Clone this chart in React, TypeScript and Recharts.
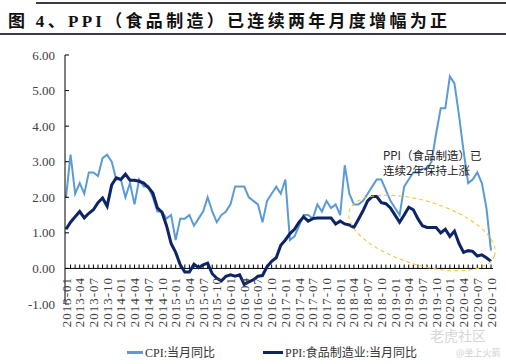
import { LineChart, Line, XAxis, YAxis, ReferenceLine } from 'recharts';

const years = ['2013', '2014', '2015', '2016', '2017', '2018', '2019', '2020'];
const monthNums = ['01', '02', '03', '04', '05', '06', '07', '08', '09', '10', '11', '12'];
// 2013-01 .. 2020-10
const months = years.flatMap((y) => monthNums.map((m) => `${y}-${m}`)).slice(0, 94);

const cpi = [
  2.0, 3.2, 2.1, 2.4, 2.1, 2.7, 2.7, 2.6, 3.1, 3.2, 3.0, 2.5,
  2.5, 2.0, 2.4, 1.8, 2.5, 2.3, 2.3, 2.0, 1.6, 1.6, 1.4, 1.5,
  0.8, 1.4, 1.4, 1.5, 1.2, 1.4, 1.6, 2.0, 1.6, 1.3, 1.5, 1.6,
  1.8, 2.3, 2.3, 2.3, 2.0, 1.9, 1.8, 1.3, 1.9, 2.1, 2.3, 2.1,
  2.5, 0.8, 0.9, 1.2, 1.5, 1.5, 1.4, 1.8, 1.6, 1.9, 1.7, 1.8,
  1.5, 2.9, 2.1, 1.8, 1.8, 1.9, 2.1, 2.3, 2.5, 2.5, 2.2, 1.9,
  1.7, 1.5, 2.3, 2.5, 2.7, 2.7, 2.8, 2.8, 3.0, 3.8, 4.5, 4.5,
  5.4, 5.2, 4.3, 3.3, 2.4, 2.5, 2.7, 2.4, 1.7, 0.5,
];

const ppiFood = [
  1.1, 1.3, 1.45, 1.6, 1.42, 1.55, 1.65, 1.85, 1.98, 1.75, 2.35, 2.55,
  2.5, 2.65, 2.48, 2.48, 2.45, 2.4, 2.28, 2.12, 1.7, 1.58, 1.2, 0.7,
  0.45, 0.1, -0.1, -0.1, 0.12, 0.02, 0.1, 0.15, -0.15, -0.28, -0.35, -0.22,
  -0.18, -0.22, -0.18, -0.45, -0.38, -0.32, -0.22, -0.2, 0.05, 0.2, 0.3, 0.65,
  0.8, 0.98, 1.1, 1.3, 1.45, 1.33, 1.4, 1.42, 1.42, 1.42, 1.42, 1.25,
  1.33, 1.25, 1.22, 1.15, 1.38, 1.62, 1.9, 2.02, 2.02, 1.85, 1.82, 1.7,
  1.5, 1.3, 1.5, 1.72, 1.65, 1.4, 1.2, 1.15, 1.15, 1.15, 1.0, 1.1,
  0.9, 1.05, 0.7, 0.45, 0.5, 0.48, 0.35, 0.38, 0.3, 0.2,
];

const yTicks = [-1, 0, 1, 2, 3, 4, 5, 6];

const data = months.map((m, i) => ({ month: m, cpi: cpi[i], ppi: ppiFood[i] }));

const SERIF = "'Liberation Serif', 'Noto Sans CJK SC', serif";
const SANS_CJK = "'Noto Sans CJK SC', sans-serif";
const CPI_COLOR = '#5b9bd5';
const PPI_COLOR = '#0d2566';

function MonthTick({ x, y, payload }: any) {
  // labels hang from the zero line, not from the bottom of the plot
  return (
    <text
      transform={`translate(${x},${y - 35}) rotate(-90)`}
      textAnchor="end"
      dy="0.35em"
      fontSize={13}
      letterSpacing={1}
      fill="#404040"
      fontFamily={SERIF}
    >
      {payload.value}
    </text>
  );
}

function LegendBox() {
  const item = (color: string, w: number, label: string, width?: number) => (
    <div style={{ display: 'flex', alignItems: 'center', width }}>
      <div style={{ width: w, height: 3, background: color, marginRight: 2 }} />
      <span style={{ fontSize: 12, color: '#333', fontFamily: SERIF }}>{label}</span>
    </div>
  );
  return (
    <div style={{ position: 'absolute', left: 127, top: 343, display: 'flex' }}>
      {item(CPI_COLOR, 16, 'CPI:当月同比', 136)}
      {item(PPI_COLOR, 20, 'PPI:食品制造业:当月同比')}
    </div>
  );
}

export default function App() {
  return (
    <div style={{ position: 'absolute', left: 0, top: 0, width: 506, height: 364, background: '#fff', overflow: 'hidden' }}>
      <div style={{ position: 'absolute', left: 36, right: 0, top: 2, height: 2, background: '#3a3a4e' }} />
      <div
        style={{
          position: 'absolute',
          left: 8,
          top: 7,
          fontSize: 17,
          fontWeight: 'bold',
          letterSpacing: 3.3,
          color: '#111',
          fontFamily: SERIF,
          whiteSpace: 'nowrap',
        }}
      >
        图 4、PPI（食品制造）已连续两年月度增幅为正
      </div>
      <div style={{ position: 'absolute', left: 0, right: 0, top: 33, height: 2, background: '#3a3a4e' }} />

      <div style={{ position: 'absolute', left: 0, top: 0 }}>
        <LineChart width={506} height={364} data={data} margin={{ top: 55, right: 13, left: 0, bottom: 30 }}>
          <XAxis
            dataKey="month"
            interval={2}
            axisLine={false}
            tickLine={false}
            tick={<MonthTick />}
            height={30}
            padding={{ left: 1, right: 2 }}
          />
          <YAxis
            domain={[-1, 6]}
            ticks={yTicks}
            width={65}
            axisLine={{ stroke: '#000' }}
            tickLine={{ stroke: '#000' }}
            tickSize={-4}
            tickMargin={14}
            tickFormatter={(v: number) => v.toFixed(2)}
            tick={{ fontSize: 13, fill: '#404040', fontFamily: SERIF }}
          />
          <ReferenceLine y={0} stroke="#000" strokeWidth={1} />
          {months.map((m) => (
            <ReferenceLine
              key={m}
              segment={[
                { x: m, y: 0 },
                { x: m, y: 0.11 },
              ]}
              stroke="#000"
              strokeWidth={1}
            />
          ))}
          <Line type="linear" dataKey="cpi" stroke={CPI_COLOR} strokeWidth={2} dot={false} isAnimationActive={false} />
          <Line type="linear" dataKey="ppi" stroke={PPI_COLOR} strokeWidth={3} dot={false} isAnimationActive={false} />
        </LineChart>
      </div>

      <svg width={506} height={364} style={{ position: 'absolute', left: 0, top: 0, pointerEvents: 'none' }}>
        <ellipse
          cx={422}
          cy={233}
          rx={76}
          ry={32}
          transform="rotate(17 422 233)"
          fill="none"
          stroke="#f2c12e"
          strokeWidth={1}
          strokeDasharray="4 3"
        />
      </svg>

      <div style={{ position: 'absolute', left: 383, top: 149, fontSize: 11.5, lineHeight: '13px', color: '#222', fontFamily: SANS_CJK, whiteSpace: 'nowrap' }}>
        PPI（食品制造）已
      </div>
      <div style={{ position: 'absolute', left: 383, top: 164, fontSize: 11.5, lineHeight: '13px', color: '#222', fontFamily: SANS_CJK, whiteSpace: 'nowrap' }}>
        连续2年保持上涨
      </div>

      <LegendBox />

      <div style={{ position: 'absolute', left: 430, top: 327, fontSize: 14, lineHeight: '16px', color: '#d6d6d6', fontFamily: SANS_CJK }}>
        老虎社区
      </div>
      <div style={{ position: 'absolute', left: 456, top: 347, fontSize: 9, lineHeight: '11px', color: '#d0d0d0', fontFamily: SANS_CJK }}>
        @坐上火箭
      </div>
    </div>
  );
}
